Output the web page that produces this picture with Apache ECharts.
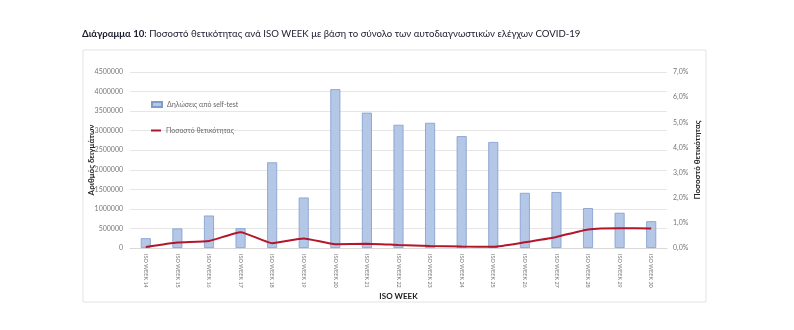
<!DOCTYPE html>
<html><head><meta charset="utf-8">
<script src="https://cdn.jsdelivr.net/npm/echarts@6/dist/echarts.min.js"></script>
<style>html,body{margin:0;padding:0;background:#fff}#c{width:794px;height:330px}</style>
</head><body><div id="c"></div>
<script>
const categories = ['ISO WEEK 14','ISO WEEK 15','ISO WEEK 16','ISO WEEK 17','ISO WEEK 18','ISO WEEK 19','ISO WEEK 20','ISO WEEK 21','ISO WEEK 22','ISO WEEK 23','ISO WEEK 24','ISO WEEK 25','ISO WEEK 26','ISO WEEK 27','ISO WEEK 28','ISO WEEK 29','ISO WEEK 30'];
const selfTests = [250000, 500000, 830000, 505000, 2190000, 1290000, 4060000, 3460000, 3150000, 3200000, 2860000, 2710000, 1410000, 1430000, 1020000, 900000, 685000];
const positivity = [0.04, 0.22, 0.28, 0.63, 0.19, 0.38, 0.15, 0.17, 0.12, 0.08, 0.06, 0.05, 0.23, 0.44, 0.74, 0.79, 0.78];
const leftTicks = {min: 0, max: 4500000, interval: 500000};
const rightTicks = {min: 0, max: 7, interval: 1};

const FONT = 'Lato, "Liberation Sans", Arial, sans-serif';
const chart = echarts.init(document.getElementById('c'), null, {renderer: 'canvas'});
chart.setOption({
  animation: false,
  backgroundColor: '#fff',
  title: {
    text: '{b|Διάγραμμα 10}: Ποσοστό θετικότητας ανά ISO WEEK με βάση το σύνολο των αυτοδιαγνωστικών ελέγχων COVID-19',
    left: 82, top: 29, padding: 0,
    textStyle: {fontFamily: FONT, fontSize: 9.6, fontWeight: 'normal', color: '#1a1a2e',
      rich: {b: {fontFamily: FONT, fontSize: 9.6, fontWeight: 'bold', color: '#1a1a2e'}}}
  },
  graphic: [{type: 'rect', shape: {x: 83, y: 50, width: 623, height: 252}, style: {fill: 'none', stroke: '#e3e3e3', lineWidth: 1}, silent: true}],
  grid: {left: 130, right: 127, top: 72, bottom: 82},
  legend: [{
    left: 151, top: 101, itemWidth: 10, itemHeight: 5, padding: 0,
    textStyle: {fontFamily: FONT, fontSize: 7, color: '#666'},
    data: [{name: 'Δηλώσεις από self-test', icon: 'rect'}]
  }, {
    left: 151, top: 127, itemWidth: 10, itemHeight: 2, padding: 0,
    textStyle: {fontFamily: FONT, fontSize: 7, color: '#666'},
    data: [{name: 'Ποσοστό θετικότητας', icon: 'rect'}]
  }],
  xAxis: {
    type: 'category', data: categories,
    name: 'ISO WEEK', nameLocation: 'middle', nameGap: 44, nameMoveOverlap: false,
    nameTextStyle: {fontFamily: FONT, fontSize: 8, fontWeight: 'bold', color: '#222'},
    axisLine: {lineStyle: {color: '#d9d9d9'}}, axisTick: {show: false},
    axisLabel: {rotate: -90, fontFamily: FONT, fontSize: 5.5, color: '#777', margin: 6, interval: 0}
  },
  yAxis: [{
    type: 'value', min: leftTicks.min, max: leftTicks.max, interval: leftTicks.interval,
    name: 'Αριθμός δειγμάτων', nameLocation: 'middle', nameRotate: 90, nameGap: 35, nameMoveOverlap: false,
    nameTextStyle: {fontFamily: FONT, fontSize: 8, fontWeight: 'bold', color: '#222'},
    axisLine: {show: false}, axisTick: {show: false},
    axisLabel: {fontFamily: FONT, fontSize: 7, color: '#777', margin: 7, formatter: v => String(v)},
    splitLine: {lineStyle: {color: '#e6e6e6'}}
  }, {
    type: 'value', min: rightTicks.min, max: rightTicks.max, interval: rightTicks.interval,
    name: 'Ποσοστό θετικότητας', nameLocation: 'middle', nameRotate: 90, nameGap: 26, nameMoveOverlap: false,
    nameTextStyle: {fontFamily: FONT, fontSize: 8, fontWeight: 'bold', color: '#222'},
    axisLine: {show: false}, axisTick: {show: false},
    axisLabel: {fontFamily: FONT, fontSize: 7, color: '#777', margin: 6,
      formatter: v => v.toFixed(1).replace('.', ',') + '%'},
    splitLine: {show: false}
  }],
  series: [{
    name: 'Δηλώσεις από self-test', type: 'bar', data: selfTests, barWidth: 10, yAxisIndex: 0,
    itemStyle: {color: '#b4c7e7', borderColor: '#7f9ccb', borderWidth: 0.8}
  }, {
    name: 'Ποσοστό θετικότητας', type: 'line', data: positivity, yAxisIndex: 1,
    symbol: 'none', smooth: 0.15, lineStyle: {color: '#b2162b', width: 2}, itemStyle: {color: '#b2162b'}
  }]
});
</script></body></html>
